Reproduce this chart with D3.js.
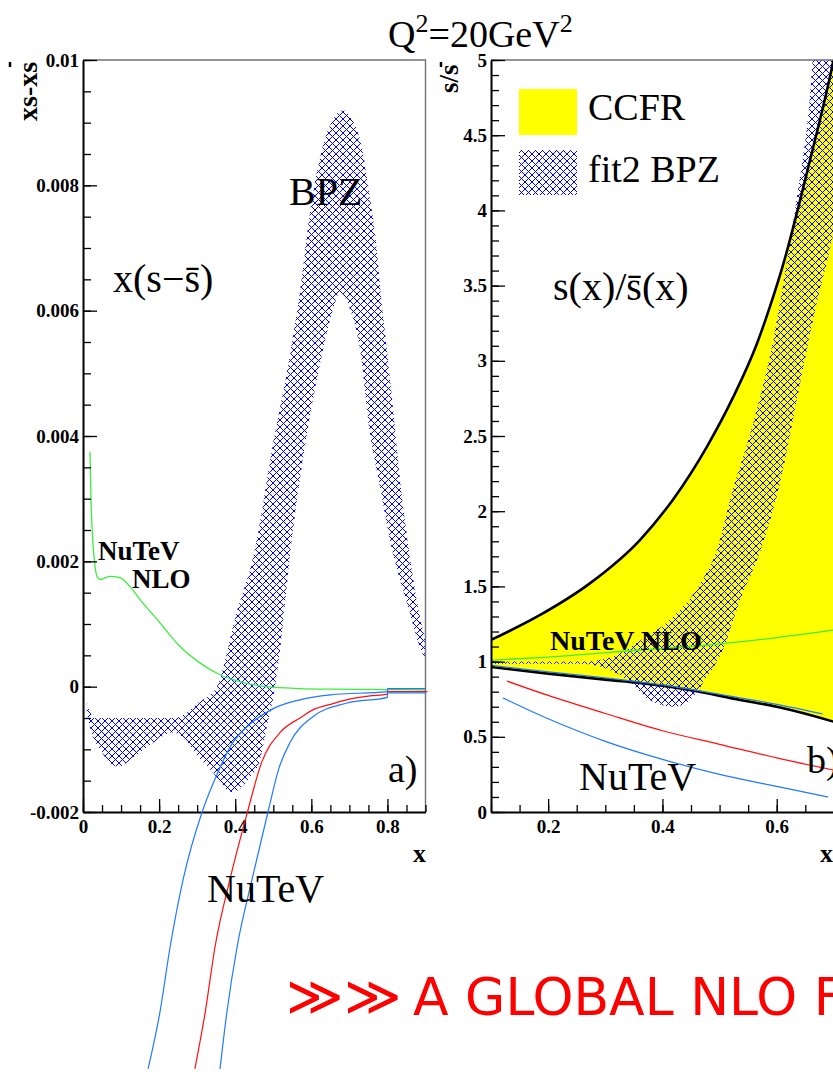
<!DOCTYPE html>
<html><head><meta charset="utf-8">
<script src="https://cdn.jsdelivr.net/npm/d3@7"></script>
<style>body{margin:0;background:#fff} svg{display:block}</style>
</head><body>
<svg id="c" width="833" height="1072"></svg>
<script>
// ---------------- DATA ----------------
// panel a) x(s - sbar)
const aXTicks = [0, 0.2, 0.4, 0.6, 0.8];
const aXTickLabels = ["0", "0.2", "0.4", "0.6", "0.8"];
const aYTicks = [-0.002, 0, 0.002, 0.004, 0.006, 0.008, 0.01];
const aYTickLabels = ["-0.002", "0", "0.002", "0.004", "0.006", "0.008", "0.01"];
const aBpzUpper = [[0.01,-0.00025],[0.03,-0.0005],[0.1,-0.0005],[0.2,-0.0005],[0.245,-0.0005],[0.265,-0.00045],[0.3,-0.00027],[0.352,0],[0.4,0.0011],[0.452,0.0022],[0.5,0.0039],[0.544,0.0053],[0.57,0.0063],[0.595,0.0075],[0.625,0.0085],[0.657,0.00905],[0.683,0.0092],[0.707,0.00905],[0.733,0.0086],[0.754,0.0078],[0.768,0.0072],[0.782,0.0063],[0.8,0.0053],[0.817,0.0043],[0.835,0.0032],[0.856,0.0022],[0.88,0.00128],[0.9,0.00075]];
const aBpzLower = [[0.01,-0.0004],[0.018,-0.00064],[0.045,-0.001],[0.093,-0.00128],[0.124,-0.00117],[0.176,-0.00093],[0.236,-0.00073],[0.26,-0.0008],[0.3,-0.0011],[0.334,-0.00132],[0.394,-0.00168],[0.434,-0.00148],[0.465,-0.00117],[0.483,-0.00064],[0.499,-0.0002],[0.518,0.00059],[0.544,0.0021],[0.589,0.00405],[0.631,0.00538],[0.657,0.00602],[0.675,0.00629],[0.702,0.00602],[0.728,0.00538],[0.754,0.00405],[0.78,0.0032],[0.809,0.00227],[0.854,0.00128],[0.891,0.00054],[0.9,0.00043]];
const aNutevNlo = [[0.0184,0.00375],[0.021,0.003],[0.026,0.0023],[0.031,0.00195],[0.037,0.00176],[0.045,0.00171],[0.071,0.00176],[0.097,0.00174],[0.123,0.0016],[0.15,0.00139],[0.202,0.00102],[0.255,0.00064],[0.307,0.00038],[0.36,0.00019],[0.412,0.00008],[0.483,0.0],[0.57,-0.00003],[0.657,-0.00004],[0.9,-0.00005]];
const aNutevUp = [[0.171,-0.0061],[0.202,-0.0052],[0.229,-0.00415],[0.263,-0.00308],[0.313,-0.002],[0.352,-0.0014],[0.394,-0.00089],[0.431,-0.00064],[0.5,-0.00035],[0.57,-0.00021],[0.65,-0.00013],[0.8,-0.00008],[0.8001,-0.00003],[0.9,-0.00003]];
const aNutevCentral = [[0.294,-0.0061],[0.321,-0.0052],[0.347,-0.00415],[0.386,-0.00308],[0.43,-0.00205],[0.47,-0.0012],[0.518,-0.00073],[0.57,-0.0005],[0.604,-0.00037],[0.657,-0.00027],[0.7,-0.0002],[0.75,-0.00015],[0.8,-0.00012],[0.8001,-0.00008],[0.905,-0.00008]];
const aNutevLow = [[0.36,-0.0061],[0.378,-0.0052],[0.405,-0.00415],[0.444,-0.00308],[0.486,-0.002],[0.515,-0.0013],[0.544,-0.00089],[0.604,-0.00048],[0.694,-0.00026],[0.8,-0.00017],[0.8001,-0.0001],[0.9,-0.0001]];

// panel b) s / sbar
const bXTicks = [0.2, 0.4, 0.6, 0.8];
const bXTickLabels = ["0.2", "0.4", "0.6", "0.8"];
const bYTicks = [0, 0.5, 1, 1.5, 2, 2.5, 3, 3.5, 4, 4.5, 5];
const bYTickLabels = ["0", "0.5", "1", "1.5", "2", "2.5", "3", "3.5", "4", "4.5", "5"];
const bCcfrUpper = [[0.1,1.144],[0.186,1.31],[0.273,1.52],[0.361,1.81],[0.419,2.08],[0.478,2.43],[0.524,2.76],[0.565,3.11],[0.589,3.37],[0.612,3.65],[0.658,4.33],[0.695,4.92],[0.72,5.4]];
const bCcfrLower = [[0.1,0.964],[0.2,0.92],[0.3,0.88],[0.361,0.858],[0.45,0.81],[0.536,0.745],[0.6,0.7],[0.7,0.6],[0.75,0.54]];
const bBpzUpper = [[0.1,1.0],[0.257,1.0],[0.303,1.02],[0.361,1.14],[0.419,1.3],[0.471,1.55],[0.495,1.74],[0.52,2.1],[0.559,2.59],[0.594,3.14],[0.618,3.67],[0.639,4.18],[0.656,4.67],[0.665,5.1]];
const bBpzLower = [[0.1,0.985],[0.257,0.985],[0.338,0.88],[0.378,0.745],[0.419,0.7],[0.454,0.765],[0.471,0.86],[0.506,1.08],[0.536,1.41],[0.568,1.7],[0.606,2.19],[0.641,2.85],[0.671,3.4],[0.693,3.74],[0.72,4.3],[0.74,5.1]];
const bNutevNlo = [[0.103,1.01],[0.2,1.03],[0.361,1.077],[0.478,1.11],[0.6,1.16],[0.7,1.21]];
const bNutevUp = [[0.1,0.975],[0.2,0.932],[0.3,0.892],[0.4,0.845],[0.5,0.782],[0.6,0.715],[0.68,0.652]];
const bNutevCentral = [[0.128,0.87],[0.2,0.775],[0.3,0.655],[0.4,0.54],[0.5,0.45],[0.6,0.36],[0.7,0.278]];
const bNutevLow = [[0.121,0.758],[0.2,0.62],[0.3,0.47],[0.4,0.35],[0.5,0.25],[0.6,0.17],[0.69,0.1]];

// ---------------- DRAWING ----------------
const serif = "'Liberation Serif','Times New Roman',serif";
const svg = d3.select('#c');
svg.append('rect').attr('width',833).attr('height',1072).attr('fill','#fff');
const defs = svg.append('defs');
// pixel cross-hatch pattern (7px pitch)
const P = 7;
const pat = defs.append('pattern').attr('id','hatch').attr('patternUnits','userSpaceOnUse')
  .attr('width',P).attr('height',P);
pat.selectAll('rect').data(d3.range(P).flatMap(i => [[i,i],[P-1-i,i]])).join('rect')
  .attr('x',d=>d[0]).attr('y',d=>d[1]).attr('width',1).attr('height',1)
  .attr('fill','#0000ff').attr('shape-rendering','crispEdges');

const BLUE = '#2079ff', RED = '#ff1010', GREEN = '#3ded3d';

const xA = d3.scaleLinear().domain([0, 0.9]).range([83, 425.5]);
const yA = d3.scaleLinear().domain([-0.002, 0.01]).range([812, 60]);
const xB = d3.scaleLinear().domain([0.1, 0.8]).range([491, 891]);
const yB = d3.scaleLinear().domain([0, 5]).range([812, 60]);

function clip(id, xs, ys){
  defs.append('clipPath').attr('id',id).append('rect')
    .attr('x',xs.range()[0]).attr('y',ys.range()[1])
    .attr('width',xs.range()[1]-xs.range()[0]).attr('height',ys.range()[0]-ys.range()[1]);
}
clip('clipA', xA, yA); clip('clipB', xB, yB);

function band(xs, ys, up, low){
  const l = d3.line().x(d=>xs(d[0])).y(d=>ys(d[1])).curve(d3.curveMonotoneX);
  const a = l(up), b = l(low.slice().reverse());
  return a + 'L' + b.slice(1) + 'Z';
}
function curve(xs, ys, data){
  return d3.line().x(d=>xs(d[0])).y(d=>ys(d[1])).curve(d3.curveMonotoneX)(data);
}

function axes(xs, ys, xT, xL, yT, yL, yMinorStep, xMinorStep){
  const [xa, xb] = xs.range(), [ya, yb] = ys.range();
  svg.append('path').attr('d',`M${xa},${yb}H${xb}V${ya}`).attr('fill','none')
    .attr('stroke','#707070').attr('stroke-width',1.4);
  const gx = svg.append('g').attr('transform',`translate(0,${ya})`)
    .call(d3.axisBottom(xs).tickValues(xT).tickSize(-13).tickSizeOuter(0).tickPadding(8).tickFormat((d,i)=>xL[i]));
  const xd = xs.domain();
  const gxm = svg.append('g').attr('transform',`translate(0,${ya})`)
    .call(d3.axisBottom(xs).tickValues(d3.range(Math.ceil(xd[0]/xMinorStep-1e-6)*xMinorStep, xd[1]+1e-9, xMinorStep)).tickSize(-7).tickFormat(''));
  gxm.select('.domain').remove();
  const gy = svg.append('g').attr('transform',`translate(${xa},0)`)
    .call(d3.axisLeft(ys).tickValues(yT).tickSize(-14).tickSizeOuter(0).tickPadding(4).tickFormat((d,i)=>yL[i]));
  const yd = ys.domain();
  const gym = svg.append('g').attr('transform',`translate(${xa},0)`)
    .call(d3.axisLeft(ys).tickValues(d3.range(yd[0], yd[1]+1e-12, yMinorStep)).tickSize(-8).tickFormat(''));
  gym.select('.domain').remove();
  [gx, gy, gxm, gym].forEach(g=>{
    g.selectAll('.tick line').attr('stroke','#000').attr('stroke-width',1.3);
    g.select('.domain').attr('stroke','#000').attr('stroke-width',2);
    g.selectAll('text').attr('font-family',serif).attr('font-weight','bold').attr('font-size',19).attr('fill','#000');
  });
}

// ---- Panel a
const gA = svg.append('g').attr('clip-path','url(#clipA)');
gA.append('path').attr('d', band(xA, yA, aBpzUpper, aBpzLower)).attr('fill','url(#hatch)');
gA.append('path').attr('d', curve(xA, yA, aNutevNlo)).attr('fill','none').attr('stroke',GREEN).attr('stroke-width',1.3);
axes(xA, yA, aXTicks, aXTickLabels, aYTicks, aYTickLabels, 0.0005, 0.05);
// NuTeV curves extend below the frame (unclipped)
[[aNutevUp,BLUE],[aNutevCentral,RED],[aNutevLow,BLUE]].forEach(([d,c])=>{
  svg.append('path').attr('d', curve(xA, yA, d)).attr('fill','none').attr('stroke',c).attr('stroke-width',1.2);
});

// ---- Panel b
const gB = svg.append('g').attr('clip-path','url(#clipB)');
gB.append('path').attr('d', band(xB, yB, bCcfrUpper, bCcfrLower)).attr('fill','#ffff00');
gB.append('path').attr('d', band(xB, yB, bBpzUpper, bBpzLower)).attr('fill','url(#hatch)');
gB.append('path').attr('d', curve(xB, yB, bCcfrUpper)).attr('fill','none').attr('stroke','#000').attr('stroke-width',2.6);
gB.append('path').attr('d', curve(xB, yB, bCcfrLower)).attr('fill','none').attr('stroke','#000').attr('stroke-width',2.6);
gB.append('path').attr('d', curve(xB, yB, bNutevNlo)).attr('fill','none').attr('stroke',GREEN).attr('stroke-width',1.3);
gB.append('path').attr('d', curve(xB, yB, bNutevUp)).attr('fill','none').attr('stroke',BLUE).attr('stroke-width',1.2);
gB.append('path').attr('d', curve(xB, yB, bNutevCentral)).attr('fill','none').attr('stroke',RED).attr('stroke-width',1.2);
gB.append('path').attr('d', curve(xB, yB, bNutevLow)).attr('fill','none').attr('stroke',BLUE).attr('stroke-width',1.2);
axes(xB, yB, bXTicks, bXTickLabels, bYTicks, bYTickLabels, 0.1, 0.05);

// ---- Texts
function txt(x, y, s, size, opts={}){
  return svg.append('text').attr('x',x).attr('y',y).attr('font-family',opts.family||serif)
    .attr('font-size',size).attr('font-weight',opts.bold?'bold':(opts.weight||'normal'))
    .attr('fill',opts.fill||'#000').text(s);
}
const t = svg.append('text').attr('x',388).attr('y',47).attr('font-family',serif).attr('font-size',38);
t.append('tspan').text('Q');
t.append('tspan').attr('dy',-15).attr('font-size',26).text('2');
t.append('tspan').attr('dy',15).text('=20GeV');
t.append('tspan').attr('dy',-15).attr('font-size',26).text('2');

// axis titles
svg.append('text').attr('transform','translate(37,121) rotate(-90)').attr('font-family',serif)
  .attr('font-weight','bold').attr('font-size',28).text('xs-xs');
svg.append('line').attr('x1',10).attr('x2',10).attr('y1',62).attr('y2',67).attr('stroke','#000').attr('stroke-width',2.5);
svg.append('text').attr('transform','translate(458,93) rotate(-90)').attr('font-family',serif)
  .attr('font-weight','bold').attr('font-size',27).text('s/s');
svg.append('line').attr('x1',441).attr('x2',441).attr('y1',62).attr('y2',67).attr('stroke','#000').attr('stroke-width',2.5);
txt(413, 862, 'x', 26, {bold:true});
txt(820, 862, 'x', 26, {bold:true});

txt(289, 205, 'BPZ', 40);
const xs1 = svg.append('text').attr('x',113).attr('y',292).attr('font-family',serif).attr('font-size',40);
xs1.append('tspan').text('x(s\u2212');
xs1.append('tspan').text('s\u0304');
xs1.append('tspan').text(')');
txt(98, 560, 'NuTeV', 27, {bold:true});
txt(132, 588, 'NLO', 27, {bold:true});
txt(388, 782, 'a)', 38);
txt(207, 902, 'NuTeV', 40);

// legend
svg.append('rect').attr('x',519).attr('y',89).attr('width',58).attr('height',46).attr('fill','#ffff00');
svg.append('rect').attr('x',519).attr('y',150).attr('width',58).attr('height',45).attr('fill','url(#hatch)');
txt(588, 120, 'CCFR', 38);
txt(588, 182, 'fit2 BPZ', 38);

txt(553, 300, 's(x)/s\u0304(x)', 40);
txt(550, 650, 'NuTeV NLO', 28, {bold:true});
txt(807, 773, 'b)', 38);
txt(579, 790, 'NuTeV', 40);

// bottom banner
txt(286, 1015, '\u226B\u226B', 55, {family:"'DejaVu Sans',sans-serif", fill:'#ff0000', weight:200});
txt(413, 1015, 'A GLOBAL NLO FIT', 52, {family:"'DejaVu Sans',sans-serif", fill:'#ff0000'});
</script></body></html>
